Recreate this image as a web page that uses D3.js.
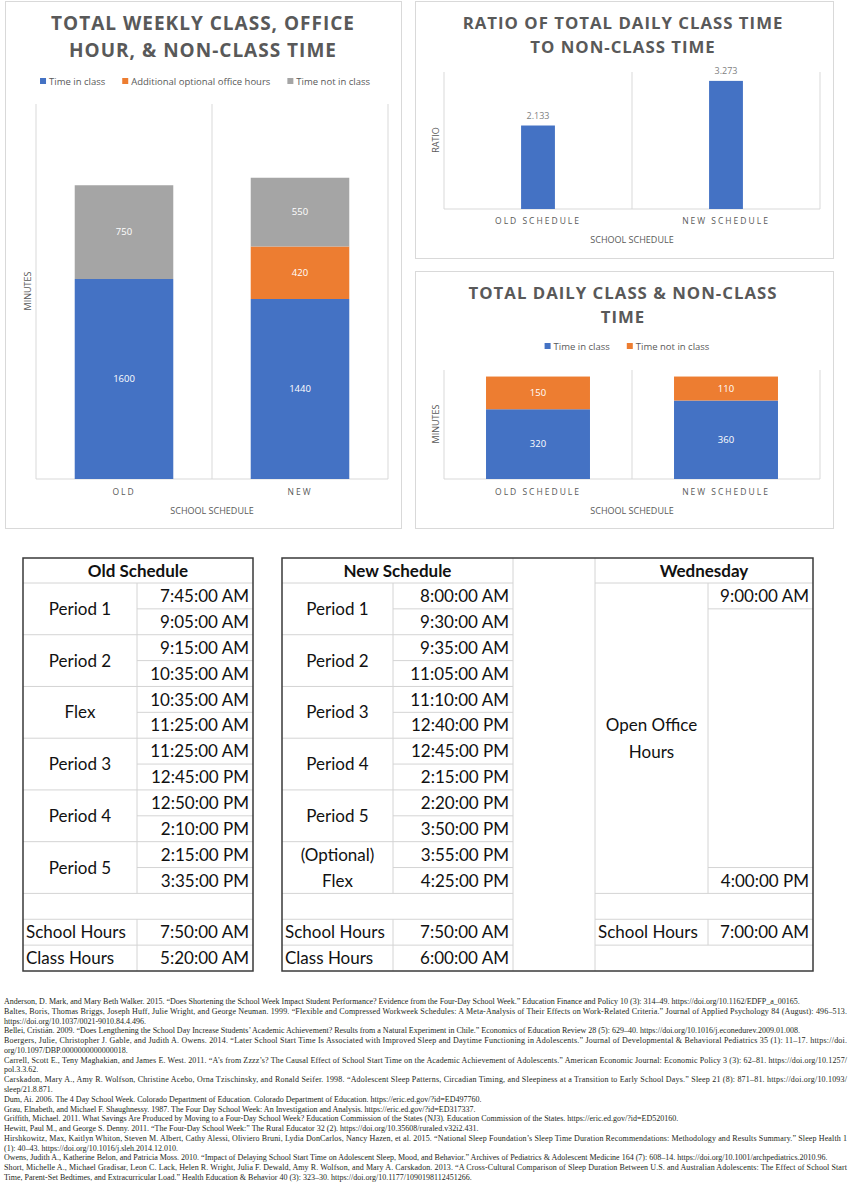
<!DOCTYPE html>
<html>
<head>
<meta charset="utf-8">
<script src="https://cdn.jsdelivr.net/npm/d3@7"></script>
<style>
  body { margin: 0; background: #fff; }
  svg { display: block; }
</style>
</head>
<body>
<div id="page"></div>
<script>
// weekly minutes, stacked
let weeklyCats = ['OLD', 'NEW'];
let weeklyInClass = [1600, 1440];
let weeklyOffice = [0, 420];
let weeklyNotInClass = [750, 550];

// daily ratio class / non-class
let ratioCats = ['OLD SCHEDULE', 'NEW SCHEDULE'];
let ratioValues = [2.133, 3.273];

// daily minutes, stacked
let dailyCats = ['OLD SCHEDULE', 'NEW SCHEDULE'];
let dailyInClass = [320, 360];
let dailyNotInClass = [150, 110];

// schedule tables
let oldPeriods = ['Period 1', 'Period 2', 'Flex', 'Period 3', 'Period 4', 'Period 5'];
let oldTimes = ['7:45:00 AM', '9:05:00 AM', '9:15:00 AM', '10:35:00 AM', '10:35:00 AM', '11:25:00 AM',
    '11:25:00 AM', '12:45:00 PM', '12:50:00 PM', '2:10:00 PM', '2:15:00 PM', '3:35:00 PM'];
let oldSummary = [['School Hours', '7:50:00 AM'], ['Class Hours', '5:20:00 AM']];

let newPeriods = ['Period 1', 'Period 2', 'Period 3', 'Period 4', 'Period 5', '(Optional)|Flex'];
let newTimes = ['8:00:00 AM', '9:30:00 AM', '9:35:00 AM', '11:05:00 AM', '11:10:00 AM', '12:40:00 PM',
    '12:45:00 PM', '2:15:00 PM', '2:20:00 PM', '3:50:00 PM', '3:55:00 PM', '4:25:00 PM'];
let newSummary = [['School Hours', '7:50:00 AM'], ['Class Hours', '6:00:00 AM']];

let wedLabel = ['Open Office', 'Hours'];
let wedTimes = ['9:00:00 AM', '4:00:00 PM'];
let wedSummary = [['School Hours', '7:00:00 AM']];

let references = [
    ['Anderson, D. Mark, and Mary Beth Walker. 2015. “Does Shortening the School Week Impact Student Performance? Evidence from the Four-Day School Week.” Education Finance and Policy 10 (3): 314–49. https://doi.org/10.1162/EDFP_a_00165.'],
    ['Baltes, Boris, Thomas Briggs, Joseph Huff, Julie Wright, and George Neuman. 1999. “Flexible and Compressed Workweek Schedules: A Meta-Analysis of Their Effects on Work-Related Criteria.” Journal of Applied Psychology 84 (August): 496–513.',
     'https://doi.org/10.1037/0021-9010.84.4.496.'],
    ['Bellei, Cristián. 2009. “Does Lengthening the School Day Increase Students’ Academic Achievement? Results from a Natural Experiment in Chile.” Economics of Education Review 28 (5): 629–40. https://doi.org/10.1016/j.econedurev.2009.01.008.'],
    ['Boergers, Julie, Christopher J. Gable, and Judith A. Owens. 2014. “Later School Start Time Is Associated with Improved Sleep and Daytime Functioning in Adolescents.” Journal of Developmental & Behavioral Pediatrics 35 (1): 11–17. https://doi.',
     'org/10.1097/DBP.0000000000000018.'],
    ['Carrell, Scott E., Teny Maghakian, and James E. West. 2011. “A’s from Zzzz’s? The Causal Effect of School Start Time on the Academic Achievement of Adolescents.” American Economic Journal: Economic Policy 3 (3): 62–81. https://doi.org/10.1257/',
     'pol.3.3.62.'],
    ['Carskadon, Mary A., Amy R. Wolfson, Christine Acebo, Orna Tzischinsky, and Ronald Seifer. 1998. “Adolescent Sleep Patterns, Circadian Timing, and Sleepiness at a Transition to Early School Days.” Sleep 21 (8): 871–81. https://doi.org/10.1093/',
     'sleep/21.8.871.'],
    ['Dum, Ai. 2006. The 4 Day School Week. Colorado Department of Education. Colorado Department of Education. https://eric.ed.gov/?id=ED497760.'],
    ['Grau, Elnabeth, and Michael F. Shaughnessy. 1987. The Four Day School Week: An Investigation and Analysis. https://eric.ed.gov/?id=ED317337.'],
    ['Griffith, Michael. 2011. What Savings Are Produced by Moving to a Four-Day School Week? Education Commission of the States (NJ3). Education Commission of the States. https://eric.ed.gov/?id=ED520160.'],
    ['Hewitt, Paul M., and George S. Denny. 2011. “The Four-Day School Week:” The Rural Educator 32 (2). https://doi.org/10.35608/ruraled.v32i2.431.'],
    ['Hirshkowitz, Max, Kaitlyn Whiton, Steven M. Albert, Cathy Alessi, Oliviero Bruni, Lydia DonCarlos, Nancy Hazen, et al. 2015. “National Sleep Foundation’s Sleep Time Duration Recommendations: Methodology and Results Summary.” Sleep Health 1',
     '(1): 40–43. https://doi.org/10.1016/j.sleh.2014.12.010.'],
    ['Owens, Judith A., Katherine Belon, and Patricia Moss. 2010. “Impact of Delaying School Start Time on Adolescent Sleep, Mood, and Behavior.” Archives of Pediatrics & Adolescent Medicine 164 (7): 608–14. https://doi.org/10.1001/archpediatrics.2010.96.'],
    ['Short, Michelle A., Michael Gradisar, Leon C. Lack, Helen R. Wright, Julia F. Dewald, Amy R. Wolfson, and Mary A. Carskadon. 2013. “A Cross-Cultural Comparison of Sleep Duration Between U.S. and Australian Adolescents: The Effect of School Start',
     'Time, Parent-Set Bedtimes, and Extracurricular Load.” Health Education & Behavior 40 (3): 323–30. https://doi.org/10.1177/1090198112451266.']
];

let width = 850;
let height = 1188;
let blue = '#4472c4';
let orange = '#ed7d31';
let gray = '#a5a5a5';
let ink = '#595959';
let grid = '#d9d9d9';
let chartFont = "'Open Sans', sans-serif";
let tableFont = 'Lato, sans-serif';

let svg = d3
    .select('#page')
    .append('svg')
    .attr('width', width)
    .attr('height', height)
    .style('background', 'white');

function panel(x, y, w, h) {
    svg.append('rect')
        .attr('x', x + 0.5).attr('y', y + 0.5)
        .attr('width', w).attr('height', h)
        .attr('fill', '#fff').attr('stroke', grid);
}

function title(lines, cx, y0, lineH, size) {
    let t = svg.append('text')
        .attr('text-anchor', 'middle')
        .attr('font-family', chartFont)
        .attr('font-weight', 700)
        .attr('font-size', size)
        .attr('letter-spacing', 1)
        .attr('fill', ink);
    lines.forEach((l, i) => t.append('tspan').attr('x', cx).attr('y', y0 + i * lineH).text(l));
}

function legend(items, cx, y) {
    let g = svg.append('g')
        .attr('font-family', chartFont)
        .attr('font-size', 9.5)
        .attr('fill', ink);
    let x = 0;
    items.forEach(it => {
        g.append('rect').attr('x', x).attr('y', y - 6.5).attr('width', 6).attr('height', 6).attr('fill', it.color);
        let t = g.append('text').attr('x', x + 9).attr('y', y).text(it.name);
        x += 9 + t.node().getComputedTextLength() + 17;
    });
    g.attr('transform', `translate(${cx - (x - 17) / 2},0)`);
}

// band edges as category gridlines, bottom axis line, category labels, axis titles
function frame(x, top, bottom, pad, yTitle, yTitleY) {
    let edges = x.domain().map(c => x(c)).concat([x.range()[1]]);
    svg.append('g')
        .selectAll('line')
        .data(edges)
        .join('line')
        .attr('x1', d => d).attr('x2', d => d)
        .attr('y1', top).attr('y2', bottom)
        .attr('stroke', grid);
    svg.append('line')
        .attr('x1', x.range()[0]).attr('x2', x.range()[1])
        .attr('y1', bottom).attr('y2', bottom)
        .attr('stroke', grid);

    let axis = svg.append('g')
        .attr('transform', `translate(0,${bottom})`)
        .call(d3.axisBottom(x).tickSize(0).tickPadding(pad));
    axis.select('.domain').remove();
    axis.selectAll('text')
        .attr('font-family', chartFont)
        .attr('font-size', 8.5)
        .attr('letter-spacing', 2)
        .attr('fill', ink);

    let cx = (x.range()[0] + x.range()[1]) / 2;
    svg.append('text')
        .attr('x', cx).attr('y', bottom + pad + 25)
        .attr('text-anchor', 'middle')
        .attr('font-family', chartFont).attr('font-size', 9)
        .attr('fill', ink)
        .text('SCHOOL SCHEDULE');

    svg.append('text')
        .attr('transform', `translate(${x.range()[0] - 5},${yTitleY})rotate(-90)`)
        .attr('text-anchor', 'middle')
        .attr('font-family', chartFont).attr('font-size', 9)
        .attr('fill', ink)
        .text(yTitle);
}

function stacked(rows, keys, colors, x, y, barFrac) {
    let series = d3.stack().keys(keys)(rows);
    let bw = x.bandwidth() * barFrac;
    let g = svg.append('g');
    series.forEach((s, si) => {
        g.append('g')
            .selectAll('rect')
            .data(s)
            .join('rect')
            .attr('x', d => x(d.data.cat) + (x.bandwidth() - bw) / 2)
            .attr('y', d => y(d[1]))
            .attr('width', bw)
            .attr('height', d => y(d[0]) - y(d[1]))
            .attr('fill', colors[si]);
        g.append('g')
            .selectAll('text')
            .data(s.filter(d => d[1] - d[0] > 0))
            .join('text')
            .attr('x', d => x(d.data.cat) + x.bandwidth() / 2)
            .attr('y', d => y((d[0] + d[1]) / 2))
            .attr('dy', '0.35em')
            .attr('text-anchor', 'middle')
            .attr('font-family', chartFont).attr('font-size', 9.5)
            .attr('fill', '#fff')
            .text(d => d[1] - d[0]);
    });
}

// ---------- chart 1 ----------
panel(5, 1, 396, 527);
title(['TOTAL WEEKLY CLASS, OFFICE', 'HOUR, & NON-CLASS TIME'], 203, 30, 27, 19);
legend([
    {name: 'Time in class', color: blue},
    {name: 'Additional optional office hours', color: orange},
    {name: 'Time not in class', color: gray}
], 205, 84.5);

let x1 = d3.scaleBand().domain(weeklyCats).range([36, 388]);
let y1 = d3.scaleLinear().domain([0, 3000]).range([479, 104]);
frame(x1, 104, 479, 10, 'MINUTES', 291);
let weeklyRows = weeklyCats.map((c, i) => ({
    cat: c, inClass: weeklyInClass[i], office: weeklyOffice[i], notIn: weeklyNotInClass[i]
}));
stacked(weeklyRows, ['inClass', 'office', 'notIn'], [blue, orange, gray], x1, y1, 0.56);

// ---------- chart 2 ----------
panel(415, 1, 418, 257);
title(['RATIO OF TOTAL DAILY CLASS TIME', 'TO NON-CLASS TIME'], 623, 29, 24, 16.8);
let x2 = d3.scaleBand().domain(ratioCats).range([444, 820]);
let y2 = d3.scaleLinear().domain([0, 3.5]).range([209, 72]);
frame(x2, 72, 209, 9, 'RATIO', 140);
let bw2 = x2.bandwidth() * 0.18;
svg.append('g')
    .selectAll('rect')
    .data(ratioCats)
    .join('rect')
    .attr('x', (d) => x2(d) + (x2.bandwidth() - bw2) / 2)
    .attr('y', (d, i) => y2(ratioValues[i]))
    .attr('width', bw2)
    .attr('height', (d, i) => y2(0) - y2(ratioValues[i]))
    .attr('fill', blue);
svg.append('g')
    .selectAll('text')
    .data(ratioCats)
    .join('text')
    .attr('x', d => x2(d) + x2.bandwidth() / 2)
    .attr('y', (d, i) => y2(ratioValues[i]) - 7)
    .attr('text-anchor', 'middle')
    .attr('font-family', chartFont).attr('font-size', 9)
    .attr('fill', '#7f7f7f')
    .text((d, i) => ratioValues[i].toFixed(3));

// ---------- chart 3 ----------
panel(415, 271, 418, 257);
title(['TOTAL DAILY CLASS & NON-CLASS', 'TIME'], 623, 299, 23.5, 16.8);
legend([
    {name: 'Time in class', color: blue},
    {name: 'Time not in class', color: orange}
], 627, 349.5);
let x3 = d3.scaleBand().domain(dailyCats).range([444, 820]);
let y3 = d3.scaleLinear().domain([0, 500]).range([479, 370]);
frame(x3, 370, 479, 10, 'MINUTES', 424);
let dailyRows = dailyCats.map((c, i) => ({cat: c, inClass: dailyInClass[i], notIn: dailyNotInClass[i]}));
stacked(dailyRows, ['inClass', 'notIn'], [blue, orange], x3, y3, 0.553);

// ---------- schedule tables ----------
let tTop = 558;
let headH = 25;
let nRows = 15;
let rowY = d3.scaleLinear().domain([0, nRows]).range([tTop + headH, 971]);
let rowH = rowY(1) - rowY(0);
let tab = svg.append('g').attr('font-family', tableFont).attr('font-size', 17).attr('fill', '#111');
let lines = svg.append('g').attr('stroke', '#d4d4d4').attr('stroke-width', 1);

function hline(xa, xb, y) {
    lines.append('line').attr('x1', xa).attr('x2', xb).attr('y1', y).attr('y2', y);
}
function vline(x, ya, yb) {
    lines.append('line').attr('x1', x).attr('x2', x).attr('y1', ya).attr('y2', yb);
}
function cell(text, x, y, anchor, bold) {
    tab.append('text')
        .attr('x', x).attr('y', y).attr('dy', '0.36em')
        .attr('text-anchor', anchor)
        .attr('font-weight', bold ? 700 : 400)
        .text(text);
}

function schedule(x0, xm, xe, header, periods, times, summary) {
    cell(header, (x0 + xe) / 2, tTop + headH / 2, 'middle', true);
    hline(x0, xe, rowY(0));
    for (let i = 1; i < nRows; i++) {
        hline(i % 2 === 0 || i >= 12 ? x0 : xm, xe, rowY(i));
    }
    vline(xm, rowY(0), rowY(12));
    vline(xm, rowY(13), rowY(nRows));
    periods.forEach((p, k) => {
        let parts = p.split('|');
        parts.forEach((part, j) => {
            let off = (j - (parts.length - 1) / 2) * rowH;
            cell(part, (x0 + xm) / 2, rowY(2 * k + 1) + off, 'middle');
        });
    });
    times.forEach((t, i) => cell(t, xe - 4, rowY(i) + rowH / 2, 'end'));
    summary.forEach((s, j) => {
        cell(s[0], x0 + 3, rowY(13 + j) + rowH / 2, 'start');
        cell(s[1], xe - 4, rowY(13 + j) + rowH / 2, 'end');
    });
}

schedule(23, 137, 253, 'Old Schedule', oldPeriods, oldTimes, oldSummary);
schedule(282, 393, 513, 'New Schedule', newPeriods, newTimes, newSummary);
vline(513, tTop, rowY(nRows));

// Wednesday block
let wx0 = 595, wxm = 708, wxe = 813;
vline(wx0, tTop, rowY(nRows));
cell('Wednesday', (wx0 + wxe) / 2, tTop + headH / 2, 'middle', true);
hline(wx0, wxe, rowY(0));
hline(wxm, wxe, rowY(1));
hline(wxm, wxe, rowY(11));
[12, 13, 14].forEach(i => hline(wx0, wxe, rowY(i)));
vline(wxm, rowY(0), rowY(12));
vline(wxm, rowY(13), rowY(14));
wedLabel.forEach((l, j) => cell(l, (wx0 + wxm) / 2, rowY(6) + (j - 0.5) * 27, 'middle'));
cell(wedTimes[0], wxe - 4, rowY(0) + rowH / 2, 'end');
cell(wedTimes[1], wxe - 4, rowY(11) + rowH / 2, 'end');
wedSummary.forEach((s, j) => {
    cell(s[0], wx0 + 3, rowY(13 + j) + rowH / 2, 'start');
    cell(s[1], wxe - 4, rowY(13 + j) + rowH / 2, 'end');
});

// outer borders
let borders = svg.append('g').attr('fill', 'none').attr('stroke', '#3a3a3a').attr('stroke-width', 1.5);
borders.append('rect').attr('x', 23).attr('y', tTop).attr('width', 253 - 23).attr('height', rowY(nRows) - tTop);
borders.append('rect').attr('x', 282).attr('y', tTop).attr('width', 813 - 282).attr('height', rowY(nRows) - tTop);

// ---------- references ----------
let refs = svg.append('g')
    .attr('font-family', "'Liberation Serif', serif")
    .attr('font-size', 8)
    .attr('fill', '#231f20');
let lineNo = 0;
references.forEach(entry => {
    entry.forEach((line, j) => {
        let t = refs.append('text')
            .attr('x', 4)
            .attr('y', 1004 + lineNo * 9.78)
            .text(line);
        if (j < entry.length - 1) {
            t.attr('textLength', 843).attr('lengthAdjust', 'spacing');
        }
        lineNo++;
    });
});
</script>
</body>
</html>
